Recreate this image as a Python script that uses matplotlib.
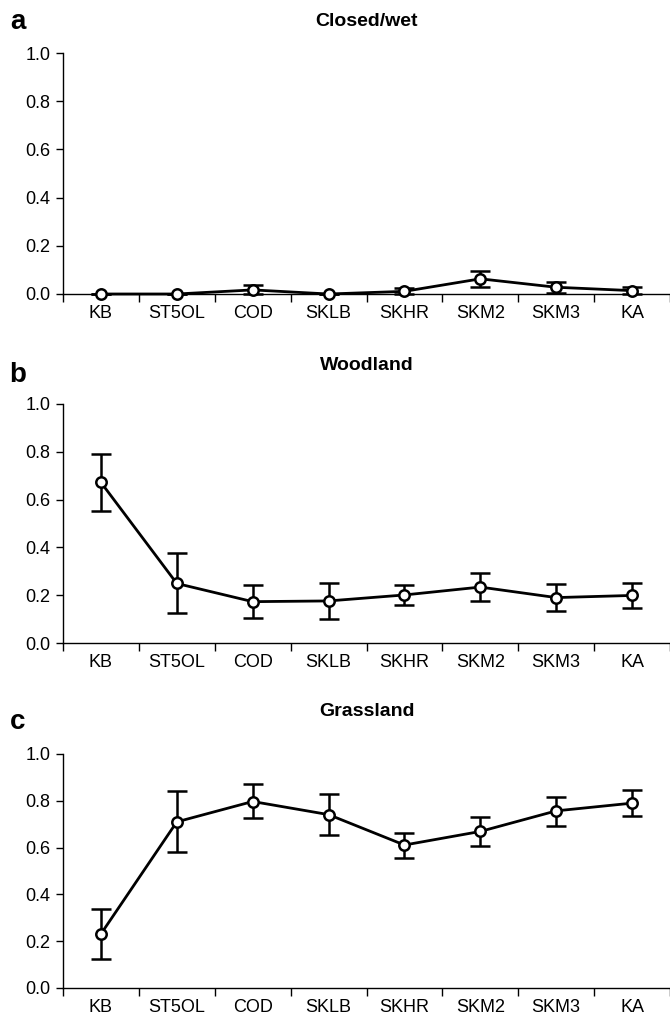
import matplotlib
matplotlib.use("Agg")
from matplotlib import pyplot as plt
from matplotlib.ticker import FixedLocator, NullFormatter
import numpy as np

plt.rcParams['font.family'] = ['Liberation Sans', 'DejaVu Sans']

sites = ['KB', 'ST5OL', 'COD', 'SKLB', 'SKHR', 'SKM2', 'SKM3', 'KA']

# Closed/wet
closed_mean = [0.0, 0.0, 0.017, 0.0, 0.011, 0.063, 0.028, 0.014]
closed_lo = [0.0, 0.0, 0.0, 0.0, 0.0, 0.031, 0.004, 0.0]
closed_hi = [0.0, 0.0, 0.038, 0.0, 0.025, 0.094, 0.049, 0.031]

# Woodland
wood_mean = [0.672, 0.249, 0.173, 0.176, 0.201, 0.234, 0.190, 0.199]
wood_lo = [0.553, 0.126, 0.105, 0.102, 0.158, 0.176, 0.132, 0.145]
wood_hi = [0.789, 0.377, 0.241, 0.249, 0.244, 0.292, 0.247, 0.253]

# Grassland
grass_mean = [0.231, 0.710, 0.797, 0.741, 0.611, 0.669, 0.757, 0.790]
grass_lo = [0.124, 0.580, 0.726, 0.655, 0.557, 0.606, 0.692, 0.733]
grass_hi = [0.337, 0.842, 0.870, 0.827, 0.664, 0.731, 0.817, 0.845]

panels = [
    ('a', 'Closed/wet', closed_mean, closed_lo, closed_hi),
    ('b', 'Woodland', wood_mean, wood_lo, wood_hi),
    ('c', 'Grassland', grass_mean, grass_lo, grass_hi),
]

W, H = 670, 1019
fig = plt.figure(figsize=(W / 100, H / 100), dpi=100)

# pixel layout: (axes top, axes bottom, title y, letter y)
layout = [(53, 294, 22, 22), (404, 643, 365, 375), (754, 988, 712, 722)]
left, right = 63, 670

x = np.arange(len(sites)) + 0.5

for (letter, title, mean, lo, hi), (top, bot, ty, ly) in zip(panels, layout):
    ax = fig.add_axes([left / W, 1 - bot / H, (right - left) / W, (bot - top) / H])
    mean = np.array(mean)
    yerr = [mean - np.array(lo), np.array(hi) - mean]
    ax.errorbar(x, mean, yerr=yerr, color='black', lw=2, elinewidth=1.8,
                capsize=7, capthick=2, marker='o', markersize=7.5,
                markerfacecolor='white', markeredgecolor='black',
                markeredgewidth=1.8, zorder=3, clip_on=False)
    ax.set_xlim(0, len(sites))
    ax.set_ylim(0, 1.0)
    ax.set_yticks([0, 0.2, 0.4, 0.6, 0.8, 1.0])
    ax.set_yticklabels(['0.0', '0.2', '0.4', '0.6', '0.8', '1.0'])
    ax.set_xticks(x)
    ax.set_xticklabels(sites)
    ax.xaxis.set_minor_locator(FixedLocator(np.arange(len(sites) + 1)))
    ax.xaxis.set_minor_formatter(NullFormatter())
    ax.tick_params(axis='x', which='major', length=0, pad=8, labelsize=13)
    ax.tick_params(axis='x', which='minor', length=6, width=1, direction='out')
    ax.tick_params(axis='y', length=5, width=1, direction='out', labelsize=13, pad=4)
    for s in ['top', 'right']:
        ax.spines[s].set_visible(False)
    for s in ['left', 'bottom']:
        ax.spines[s].set_linewidth(1.0)
    fig.text((left + right) / 2 / W, 1 - ty / H, title, ha='center', va='center',
             fontsize=14, fontweight='bold')
    fig.text(18 / W, 1 - ly / H, letter, ha='center', va='center',
             fontsize=20, fontweight='bold')

fig.savefig('out.png', dpi=100)
